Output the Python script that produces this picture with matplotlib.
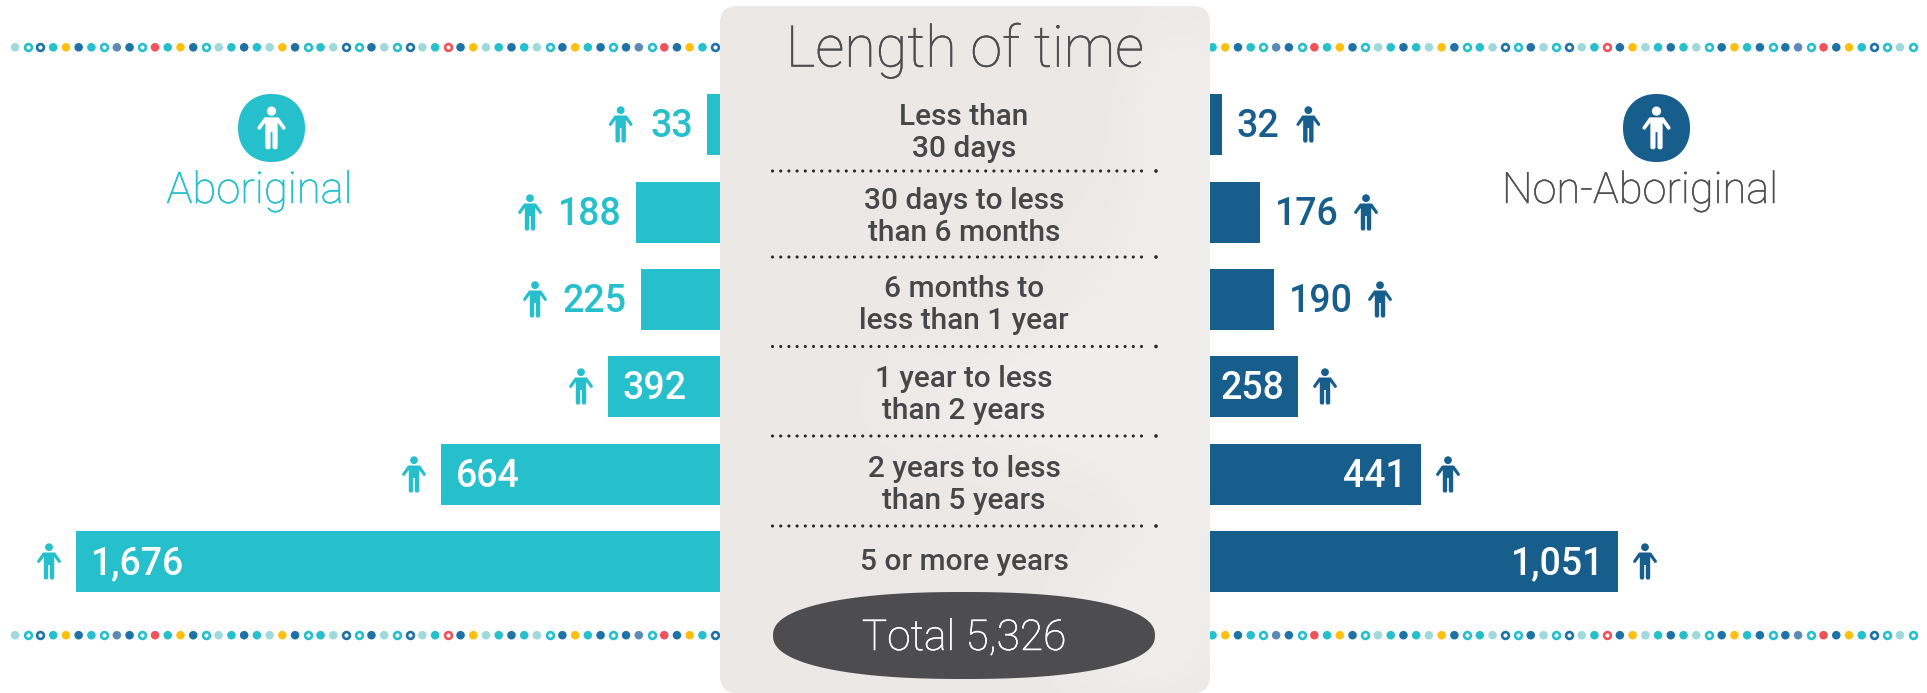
#!/usr/bin/env python3
# -*- coding: utf-8 -*-
import numpy as np
import matplotlib
matplotlib.use('Agg')
import matplotlib.pyplot as plt
import matplotlib.patheffects as pe
from matplotlib.patches import FancyBboxPatch, Polygon, Circle

plt.rcParams['font.family'] = ['Roboto', 'DejaVu Sans']

# datos de la grafica
categorias = ['Less than\n30 days', '30 days to less\nthan 6 months', '6 months to\nless than 1 year',
              '1 year to less\nthan 2 years', '2 years to less\nthan 5 years', '5 or more years']
aboriginal = [33, 188, 225, 392, 664, 1676]
no_aboriginal = [32, 176, 190, 258, 441, 1051]
total = 5326

# largo visible de cada barra fuera del panel, tal como se ve en la imagen (px)
largo_aboriginal = [13, 84, 79, 112, 279, 644]
largo_no_aboriginal = [12, 50, 64, 88, 211, 408]

# secuencia de puntos de colores a cada lado del panel
puntos_izq = 'LoBcybcogborcyboLcbcLybocLBobLoBLcRbyLcbcLobycbobgorbycB'
puntos_der = 'cybcogborcyboLcbcLybocLBobLoBLcRbyLcbcLobycbobgorbycBoLo'

TEAL = '#26BFCC'
AZUL = '#175E8C'
OSCURO = '#47474A'
colores_punto = {'L': '#9FD9DC', 'c': '#26BFCC', 'o': '#26BFCC', 'b': '#1F72A6', 'B': '#1F72A6',
                 'y': '#FDC010', 'r': '#F0525A', 'R': '#F0525A', 'g': '#5D8AB5'}

ANCHO, ALTO = 1927, 693
PANEL_IZQ, PANEL_DER = 720, 1210
CENTRO = 964
fila_y = [124.5, 212.5, 299.5, 386.5, 474.5, 561.5]
base_texto = [125, 209, 297, 387, 477, 570]
ALTO_BARRA = 61

fig = plt.figure(figsize=(ANCHO / 100, ALTO / 100), dpi=100)
ax = fig.add_axes([0, 0, 1, 1])


def blob(cx, cy, w, h, n=2.6, color='k', z=5):
    t = np.linspace(0, 2 * np.pi, 200)
    x = cx + w / 2 * np.sign(np.cos(t)) * np.abs(np.cos(t)) ** (2 / n)
    y = cy + h / 2 * np.sign(np.sin(t)) * np.abs(np.sin(t)) ** (2 / n)
    ax.add_patch(Polygon(np.column_stack([x, y]), closed=True, fc=color, ec='none', zorder=z))


def persona(cx, cy, color, esc=1.0, z=6):
    # monigote: cabeza + cuerpo con brazos abiertos (36 px de alto)
    ax.add_patch(Circle((cx, cy - 14.3 * esc), 3.9 * esc, fc=color, ec='none', zorder=z))
    cuerpo = [(-6, -9), (6, -9), (11.8, -0.8), (11.8, 0.8), (9.8, 1.6), (5.2, -4.5), (5.2, 16.5), (4.3, 18),
              (1.7, 18), (0.8, 16.5), (0.8, 3.5), (-0.8, 3.5), (-0.8, 16.5), (-1.7, 18), (-4.3, 18), (-5.2, 16.5),
              (-5.2, -4.5), (-9.8, 1.6), (-11.8, 0.8), (-11.8, -0.8)]
    xy = [(cx + a * esc, cy + b * esc) for a, b in cuerpo]
    ax.add_patch(Polygon(xy, closed=True, fc=color, ec='none', zorder=z))


def texto_fino(x, y, s, color, tam, z=6):
    # Roboto Light queda algo mas delgada que en la imagen, se engrosa un poco
    t = ax.text(x, y, s, ha='center', va='baseline', fontsize=tam, fontweight='light', color=color, zorder=z)
    t.set_path_effects([pe.withStroke(linewidth=0.35, foreground=color)])


# filas de puntos
for y in (47.3, 635.2):
    for inicio, seq in ((15, puntos_izq), (1212.5, puntos_der)):
        xs = inicio + 12.73 * np.arange(len(seq))
        for x, c in zip(xs, seq):
            if c in 'oBR':
                ax.scatter(x, y, s=24, fc='white', ec=colores_punto[c], lw=1.9, zorder=1)
            else:
                ax.scatter(x, y, s=38, fc=colores_punto[c], ec='none', zorder=1)

# barras
ax.barh(fila_y, [-v for v in largo_aboriginal], left=PANEL_IZQ, height=ALTO_BARRA, color=TEAL, zorder=2)
ax.barh(fila_y, largo_no_aboriginal, left=PANEL_DER, height=ALTO_BARRA, color=AZUL, zorder=2)

# panel central
panel = FancyBboxPatch((PANEL_IZQ, 6), PANEL_DER - PANEL_IZQ, 687, boxstyle='round,pad=0,rounding_size=17',
                       fc='#EBE8E5', ec='none', zorder=3)
ax.add_patch(panel)

# zonas mas claras del panel (manchas suaves)
manchas = [(1180, 110, 35, 60), (1150, 330, 60, 90), (1185, 260, 30, 110), (1060, 400, 110, 50),
           (1175, 480, 35, 90), (1140, 630, 60, 50)]
gx, gy = np.meshgrid(np.arange(PANEL_IZQ, PANEL_DER), np.arange(6, ALTO))
mascara = np.zeros(gx.shape)
for cx, cy, sx, sy in manchas:
    mascara += np.exp(-((gx - cx) / sx) ** 2 / 2 - ((gy - cy) / sy) ** 2 / 2)
capa = np.zeros(gx.shape + (4,))
capa[..., :3] = np.array([0xF4, 0xF3, 0xF1]) / 255
capa[..., 3] = np.clip(mascara, 0, 1) * 0.6
img = ax.imshow(capa, extent=(PANEL_IZQ, PANEL_DER, ALTO, 6), aspect='auto', zorder=3.1)
img.set_clip_path(panel)

ax.set_xlim(0, ANCHO)
ax.set_ylim(ALTO, 0)
ax.axis('off')

texto_fino(CENTRO + 1, 66.5, 'Length of time', '#4E4E50', 41.3, z=5)
for y, etiqueta in zip(base_texto, categorias):
    for k, linea in enumerate(etiqueta.split('\n')):
        ax.text(CENTRO, y + k * 31.7, linea, ha='center', va='baseline', fontsize=21.5, fontweight='medium',
                color=OSCURO, zorder=5)

# separadores punteados
for y in (171, 257, 346.5, 436, 526):
    xs = 772.5 + 8.2 * np.arange(46)
    ax.scatter(xs, [y] * len(xs), s=5, fc='#2A2A2A', ec='none', zorder=5)
    ax.scatter([1156], [y], s=7, fc='#2A2A2A', ec='none', zorder=5)

# total
blob(964, 635.5, 382, 87, n=2.3, color='#4D4D4F')
texto_fino(CENTRO, 650, f'Total {total:,}', 'white', 30.6)

# etiquetas e iconos de cada barra
TAM = 27
for y, v, l in zip(fila_y, aboriginal, largo_aboriginal):
    borde = PANEL_IZQ - l
    txt = f'{v:,}'
    if l > 100:
        ax.text(borde + 15, y + 12.5, txt, ha='left', va='baseline', fontsize=TAM, fontweight='medium', color='white', zorder=6)
        persona(borde - 27, y, TEAL)
    else:
        ax.text(borde - 14, y + 12.5, txt, ha='right', va='baseline', fontsize=TAM, fontweight='medium', color=TEAL, zorder=6)
        persona(borde - 16 - 59 * len(txt) / 3 - 31, y, TEAL)
for y, v, l in zip(fila_y, no_aboriginal, largo_no_aboriginal):
    borde = PANEL_DER + l
    txt = f'{v:,}'
    if l > 80:
        ax.text(borde - 14, y + 12.5, txt, ha='right', va='baseline', fontsize=TAM, fontweight='medium', color='white', zorder=6)
        persona(borde + 27, y, AZUL)
    else:
        ax.text(borde + 15, y + 12.5, txt, ha='left', va='baseline', fontsize=TAM, fontweight='medium', color=AZUL, zorder=6)
        persona(borde + 16 + 59 * len(txt) / 3 + 31, y, AZUL)

# encabezados de los grupos
blob(271.5, 128, 67, 68, n=2.15, color=TEAL)
persona(271.5, 128, 'white', esc=1.18)
texto_fino(259.5, 203, 'Aboriginal', TEAL, 31.4)
blob(1656.5, 128, 67, 68, n=2.15, color=AZUL)
persona(1656.5, 128, 'white', esc=1.18)
texto_fino(1640, 203, 'Non-Aboriginal', '#4E4E50', 31.2)

fig.savefig('out.png', dpi=100)
